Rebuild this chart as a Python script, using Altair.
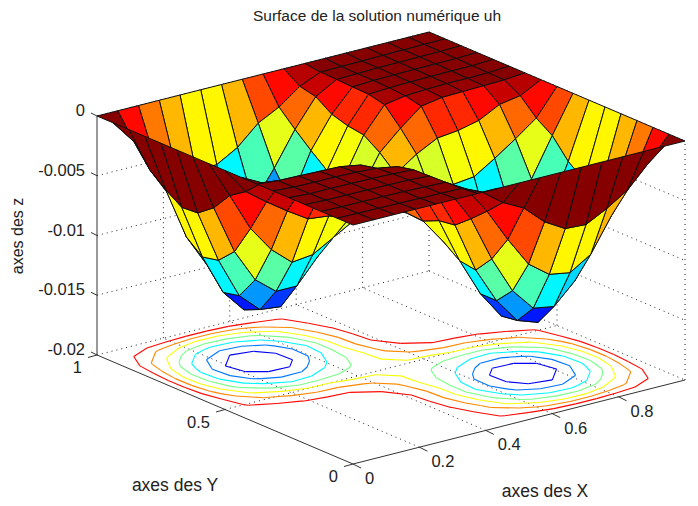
import altair as alt
import pandas as pd

# depth of the surface below z = 0, in units of 1e-4, upper triangle rows (i <= j)
D_ROWS = [
    [0] * 17,
    [.3, .5, .7, 1, 1.2, 1.5, 9, 22, 31, 47, 57, 58, 49, 38, 20, 0],
    [.6, .8, 1, 1.5, 2, 12, 35, 63, 88, 101, 104, 93, 65, 38, 0],
    [1, 1.2, 1.5, 2.5, 21, 47, 85, 116, 135, 138, 121, 93, 49, 0],
    [1.5, 2, 3, 25, 58, 100, 130, 151, 157, 138, 104, 58, 0],
    [3, 6, 27, 60, 98, 130, 153, 151, 135, 101, 57, 0],
    [20, 36, 66, 88, 110, 130, 130, 116, 88, 47, 0],
    [48, 65, 78, 88, 98, 100, 85, 63, 31, 0],
    [68, 65, 66, 60, 58, 47, 35, 22, 0],
    [48, 36, 27, 25, 21, 12, 9, 0],
    [20, 6, 3, 2.5, 2, 1.5, 0],
    [3, 2, 1.5, 1.5, 1.2, 0],
    [1.5, 1.2, 1, 1, 0],
    [1, .8, .7, 0],
    [.6, .5, 0],
    [.3, 0],
    [0],
]
N = 16
D_MAX = 158.0
CONTOUR_LEVELS = [20, 40, 60, 80, 100, 120, 140]
X_TICKS = [0, 0.2, 0.4, 0.6, 0.8]
X_TICK_LABELS = ["0", "0.2", "0.4", "0.6", "0.8"]
Y_TICKS = [0, 0.5, 1]
Y_TICK_LABELS = ["0", "0.5", "1"]
Z_TICKS = [0, -0.005, -0.01, -0.015, -0.02]
Z_TICK_LABELS = ["0", "-0.005", "-0.01", "-0.015", "-0.02"]
TITLE = "Surface de la solution numérique uh"
X_LABEL = "axes des X"
Y_LABEL = "axes des Y"
Z_LABEL = "axes des z"
FONT = "Liberation Sans"
INK = "#222222"

W, H = 682, 490
d = [[0.0] * (N + 1) for _ in range(N + 1)]
for i, row in enumerate(D_ROWS):
    for k, v in enumerate(row):
        d[i][i + k] = v
        d[i + k][i] = v


def project(x, y, z):
    """Orthographic MATLAB-like view, returns pixel position inside the chart."""
    px = 345 + 332 * x - 256 * y
    py = 456 - 84 * x - 109 * y - 239 * (z + 0.02) / 0.02
    return px, py


def vertex(i, j, depth):
    return project(i / N, j / N, -depth * 1e-4)


def jet(t):
    t = (min(int(t * 64), 63) + 0.5) / 64
    ch = lambda c: max(0.0, min(1.0, 1.5 - abs(4 * t - c)))
    return "#%02x%02x%02x" % tuple(int(round(ch(c) * 255)) for c in (3, 2, 1))


# surface cells, far to near; each cell takes the colour of its lowest-index corner
cells = sorted(
    ((i, j) for i in range(N) for j in range(N)),
    key=lambda c: -(5.25 * c[0] + 6.81 * c[1]),
)
features = []
for i, j in cells:
    corners = [(i, j), (i + 1, j), (i + 1, j + 1), (i, j + 1), (i, j)]
    ring = [list(vertex(a, b, d[a][b])) for a, b in corners]
    features.append({
        "type": "Feature",
        "geometry": {"type": "Polygon", "coordinates": [ring]},
        "properties": {"fill": jet(1 - d[i][j] / D_MAX)},
    })
surface = alt.Chart(alt.Data(values=features)).mark_geoshape(
    stroke="#101010", strokeWidth=1, strokeJoin="round"
).encode(
    fill=alt.Fill("properties.fill:N", scale=None)
).project(type="identity", scale=1, translate=[0, 0])

# contour lines on the floor (marching squares on the same table)
contour_rows = []


def cross(a, b, va, vb, lev):
    s = (lev - va) / (vb - va)
    return (a[0] + s * (b[0] - a[0]), a[1] + s * (b[1] - a[1]))


for lev in CONTOUR_LEVELS:
    colour = jet(1 - lev / D_MAX)
    for i in range(N):
        for j in range(N):
            sq = [(i, j), (i + 1, j), (i + 1, j + 1), (i, j + 1)]
            pts = []
            for k in range(4):
                a, b = sq[k], sq[(k + 1) % 4]
                va, vb = d[a[0]][a[1]], d[b[0]][b[1]]
                if (va < lev) != (vb < lev):
                    pts.append(cross(a, b, va, vb, lev))
            for m in range(0, len(pts) - 1, 2):
                p = project(pts[m][0] / N, pts[m][1] / N, -0.02)
                q = project(pts[m + 1][0] / N, pts[m + 1][1] / N, -0.02)
                contour_rows.append(dict(x=p[0], y=p[1], x2=q[0], y2=q[1], c=colour))


def seg(a, b):
    p, q = project(*a), project(*b)
    return dict(x=p[0], y=p[1], x2=q[0], y2=q[1])


ZB = -0.02
dotted = []
for v in X_TICKS[1:]:
    dotted.append(seg((v, 0, ZB), (v, 1, ZB)))
    dotted.append(seg((v, 1, ZB), (v, 1, 0)))
dotted.append(seg((0, 0.5, ZB), (1, 0.5, ZB)))
dotted.append(seg((1, 0.5, ZB), (1, 0.5, 0)))
dotted.append(seg((0, 1, ZB), (1, 1, ZB)))
dotted.append(seg((1, 1, ZB), (1, 0, ZB)))
dotted.append(seg((1, 1, ZB), (1, 1, 0)))
dotted.append(seg((1, 0, ZB), (1, 0, 0)))
for v in Z_TICKS[:-1]:
    dotted.append(seg((0, 1, v), (1, 1, v)))
    dotted.append(seg((1, 1, v), (1, 0, v)))

solid = [seg((0, 0, ZB), (1, 0, ZB)), seg((0, 0, ZB), (0, 1, ZB)), seg((0, 1, ZB), (0, 1, 0))]
for v in X_TICKS:
    p = project(v, 0, ZB)
    solid.append(dict(x=p[0], y=p[1], x2=p[0] + 8, y2=p[1] + 4))
for v in Y_TICKS:
    p = project(0, v, ZB)
    solid.append(dict(x=p[0], y=p[1], x2=p[0] - 9, y2=p[1] + 2.5))
for v in Z_TICKS:
    p = project(0, 1, v)
    solid.append(dict(x=p[0], y=p[1], x2=p[0] - 6, y2=p[1] - 3))

XE = alt.X("x:Q", scale=None, axis=None)
YE = alt.Y("y:Q", scale=None, axis=None)


def rules(rows, **mark):
    return alt.Chart(pd.DataFrame(rows)).mark_rule(**mark).encode(
        x=XE, y=YE, x2="x2:Q", y2="y2:Q"
    )


dots = rules(dotted, color="#222222", strokeWidth=1, strokeDash=[1, 4])
axes = rules(solid, color="#333333", strokeWidth=1)
contours = alt.Chart(pd.DataFrame(contour_rows)).mark_rule(strokeWidth=1.1).encode(
    x=XE, y=YE, x2="x2:Q", y2="y2:Q", color=alt.Color("c:N", scale=None)
)

FS = 16.5
labels = []
for v, t in zip(X_TICKS, X_TICK_LABELS):
    p = project(v, 0, ZB)
    labels.append(dict(x=p[0] + 12, y=p[1] + 15, t=t, a="left"))
for v, t in zip(Y_TICKS, Y_TICK_LABELS):
    p = project(0, v, ZB)
    labels.append(dict(x=p[0] - 15, y=p[1] + 13, t=t, a="right"))
for v, t in zip(Z_TICKS, Z_TICK_LABELS):
    p = project(0, 1, v)
    labels.append(dict(x=p[0] - 12, y=p[1] - 5, t=t, a="right"))
label_layers = [
    alt.Chart(pd.DataFrame([r for r in labels if r["a"] == a])).mark_text(
        font=FONT, fontSize=FS, align=a, baseline="middle", color=INK
    ).encode(x=XE, y=YE, text="t:N")
    for a in ("left", "right")
]
captions = pd.DataFrame([
    dict(x=369, y=8, t=TITLE, s=15.5),
    dict(x=167, y=478, t=Y_LABEL, s=17.5),
    dict(x=537, y=484, t=X_LABEL, s=17.5),
])
caption_layer = alt.Chart(captions).mark_text(
    font=FONT, align="center", baseline="middle", color=INK
).encode(x=XE, y=YE, text="t:N", size=alt.Size("s:Q", scale=None, legend=None))
z_caption = alt.Chart(pd.DataFrame([dict(x=10, y=228, t=Z_LABEL)])).mark_text(
    font=FONT, fontSize=16, align="center", baseline="middle", color=INK, angle=270
).encode(x=XE, y=YE, text="t:N")

chart = alt.layer(
    dots, contours, surface, axes, *label_layers, caption_layer, z_caption
).properties(width=W, height=H, padding=0, background="white").configure_view(stroke=None)

chart.save("out.html", embed_options={"renderer": "svg", "actions": False})
